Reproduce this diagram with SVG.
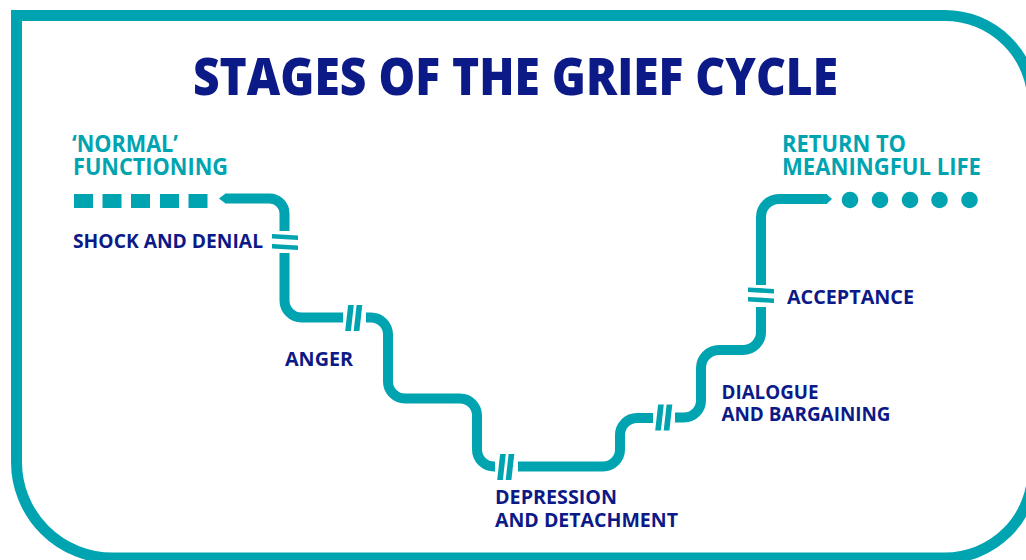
<svg xmlns="http://www.w3.org/2000/svg" xmlns:xlink="http://www.w3.org/1999/xlink" width="1026" height="560" viewBox="0 0 1026 560">
  <style>
    .border { fill: none; stroke: #00a4b0; stroke-width: 11; stroke-linejoin: miter; }
    .pipe { fill: none; stroke: #00a4b0; stroke-width: 10; stroke-linecap: butt; }
    .teal { fill: #00a4b0; }
    .title { font-family: "Open Sans", "Liberation Sans", sans-serif; font-weight: 800; font-size: 52px; fill: #0c1a88; }
    .lbl { font-family: "Open Sans", "Liberation Sans", sans-serif; font-weight: 700; font-size: 20.3px; fill: #0c1a88; }
    .tlbl { font-family: "Open Sans", "Liberation Sans", sans-serif; font-weight: 700; font-size: 23px; fill: #00a4b0; }
  </style>
  <defs>
    <polygon id="slash" points="-1.4,-13 4.3,-13 1.4,13 -4.3,13" fill="#00a4b0"/>
    <polygon id="eq" points="-13,-3 13,-1.6 13,3 -13,1.6" fill="#00a4b0"/>
  </defs>
  <rect width="1026" height="560" fill="#ffffff"/>
  <path class="border" d="M1033,470 V103.5 A88,88 0 0 0 945,15.5 H16.5 V462 A96,96 0 0 0 112.5,558 H945 A88,88 0 0 0 1033,470 Z"/>

  <text class="title" x="193" y="95" textLength="645" lengthAdjust="spacingAndGlyphs">STAGES OF THE GRIEF CYCLE</text>

  <g id="node-normal">
    <text class="tlbl"><tspan x="72" y="152" textLength="106" lengthAdjust="spacingAndGlyphs">‘NORMAL’</tspan><tspan x="73" y="175" textLength="155" lengthAdjust="spacingAndGlyphs">FUNCTIONING</tspan></text>
    <rect class="teal" x="74" y="194" width="19" height="14"/>
    <rect class="teal" x="102.5" y="194" width="19" height="14"/>
    <rect class="teal" x="131" y="194" width="19" height="14"/>
    <rect class="teal" x="160" y="194" width="19" height="14"/>
    <rect class="teal" x="188.5" y="194" width="19" height="14"/>
  </g>

  <g id="node-shock">
    <text class="lbl" x="73" y="247.5" textLength="190" lengthAdjust="spacingAndGlyphs">SHOCK AND DENIAL</text>
  </g>
  <g id="node-anger">
    <text class="lbl" x="285" y="366" textLength="68" lengthAdjust="spacingAndGlyphs">ANGER</text>
  </g>
  <g id="node-depression">
    <text class="lbl"><tspan x="495" y="504" textLength="122" lengthAdjust="spacingAndGlyphs">DEPRESSION</tspan><tspan x="495" y="527" textLength="183" lengthAdjust="spacingAndGlyphs">AND DETACHMENT</tspan></text>
  </g>
  <g id="node-dialogue">
    <text class="lbl"><tspan x="721.5" y="398.5" textLength="97" lengthAdjust="spacingAndGlyphs">DIALOGUE</tspan><tspan x="721.5" y="421" textLength="169" lengthAdjust="spacingAndGlyphs">AND BARGAINING</tspan></text>
  </g>
  <g id="node-acceptance">
    <text class="lbl" x="787" y="303.5" textLength="127" lengthAdjust="spacingAndGlyphs">ACCEPTANCE</text>
  </g>
  <g id="node-return">
    <text class="tlbl"><tspan x="782" y="152" textLength="124" lengthAdjust="spacingAndGlyphs">RETURN TO</tspan><tspan x="782" y="175" textLength="199" lengthAdjust="spacingAndGlyphs">MEANINGFUL LIFE</tspan></text>
    <circle class="teal" cx="850" cy="200" r="8.3"/>
    <circle class="teal" cx="880" cy="200" r="8.3"/>
    <circle class="teal" cx="910" cy="200" r="8.3"/>
    <circle class="teal" cx="939.5" cy="200" r="8.3"/>
    <circle class="teal" cx="969.5" cy="200" r="8.3"/>
  </g>

  <g id="connectors">
    <polygon class="teal" points="225.5,193.5 219,198.5 225.5,203.5"/>
    <path class="pipe" d="M225,198.5 H269.5 A15,15 0 0 1 284.5,213.5 V231"/>
    <use xlink:href="#eq" x="285" y="237"/>
    <use xlink:href="#eq" x="285" y="247"/>
    <path class="pipe" d="M284.5,253 V300.5 A17,17 0 0 0 301.5,317.5 H343"/>
    <use xlink:href="#slash" x="349.5" y="318"/>
    <use xlink:href="#slash" x="358" y="318"/>
    <path class="pipe" d="M366,317.5 H371 A17,17 0 0 1 388,334.5 V381.5 A17,17 0 0 0 405,398.5 H460 A17,17 0 0 1 477,415.5 V449.5 A17,17 0 0 0 494,466.5 H495"/>
    <use xlink:href="#slash" x="501.5" y="467"/>
    <use xlink:href="#slash" x="510" y="467"/>
    <path class="pipe" d="M518,466.5 H603 A17,17 0 0 0 620,449.5 V435 A17,17 0 0 1 637,418 H653"/>
    <use xlink:href="#slash" x="659.5" y="417.5"/>
    <use xlink:href="#slash" x="668" y="417.5"/>
    <path class="pipe" d="M675,417.5 H684 A17,17 0 0 0 701,400.5 V368 A18,18 0 0 1 719,350 H743 A18,18 0 0 0 761,332 V307"/>
    <use xlink:href="#eq" x="761" y="290.5"/>
    <use xlink:href="#eq" x="761" y="300"/>
    <path class="pipe" d="M761,285 V217 A18,18 0 0 1 779,199 H827"/>
    <polygon class="teal" points="826.5,194 832,199 826.5,204"/>
  </g>
</svg>
